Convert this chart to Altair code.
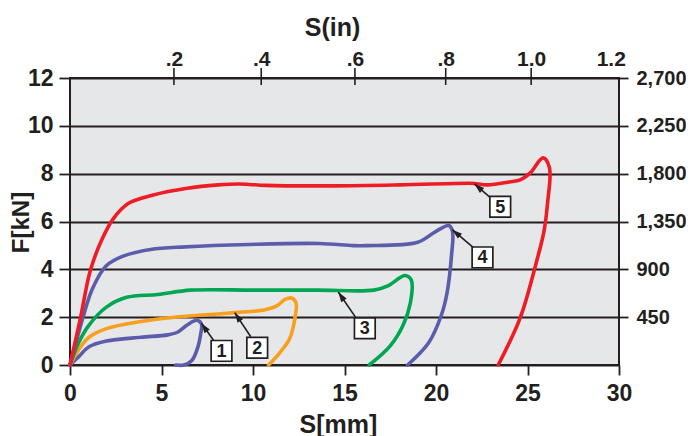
import math
import altair as alt
import pandas as pd

# ---------------- data ----------------
curve_names = ["1", "2", "3", "4", "5"]
curve_colors = ["#5B5DAA", "#F8A01E", "#00A651", "#5B5DAA", "#EE1C25"]

c1_x = [0, 0.47, 1.04, 1.99, 3.88, 5.35, 5.9, 6.4, 6.92, 7.18, 7.12, 7.0, 6.66, 6.22, 5.78]
c1_y = [0, 0.34, 0.76, 1.0, 1.16, 1.26, 1.38, 1.67, 1.87, 1.72, 1.2, 0.78, 0.19, 0.0, 0.0]

c2_x = [0, 0.47, 1.04, 1.99, 3.88, 5.7, 7.44, 9.2, 10.6, 11.3, 11.75, 12.1, 12.35, 12.3, 12.0, 11.45, 10.85]
c2_y = [0, 0.64, 1.16, 1.52, 1.82, 2.0, 2.1, 2.2, 2.3, 2.47, 2.74, 2.8, 2.6, 2.0, 1.1, 0.5, 0]

c3_x = [0, 0.47, 1.04, 1.99, 3.1, 4.8, 6.6, 10.0, 13.5, 16.6, 17.4, 18.3, 18.65, 18.6, 18.2, 17.5, 16.35]
c3_y = [0, 0.93, 1.67, 2.42, 2.83, 2.95, 3.13, 3.13, 3.13, 3.13, 3.32, 3.74, 3.55, 2.6, 1.66, 0.8, 0]

c4_x = [0, 0.7, 1.22, 1.97, 2.9, 4.4, 6.3, 9.8, 13.6, 15.5, 16.2, 19.0, 20.0, 20.7, 20.9, 20.85, 20.6, 20.3, 19.6, 18.45]
c4_y = [0, 1.97, 3.18, 4.14, 4.55, 4.83, 4.94, 5.04, 5.08, 4.99, 4.99, 5.13, 5.59, 5.83, 5.59, 4.6, 3.0, 2.1, 0.93, 0]

c5_x = [0, 0.57, 1.1, 1.7, 2.37, 3.2, 4.5, 6.4, 8.1, 9.2, 9.8, 10.7, 14.4, 18.0, 21.8, 22.1, 22.8,
        24.0, 24.6, 25.15, 25.85, 26.2, 26.1, 25.9, 25.5, 24.6, 23.4]
c5_y = [0, 1.96, 3.92, 5.17, 6.12, 6.76, 7.1, 7.39, 7.53, 7.57, 7.55, 7.51, 7.49, 7.53, 7.6, 7.59, 7.53,
        7.65, 7.74, 8.03, 8.66, 8.25, 6.8, 5.59, 4.34, 1.97, 0]

# axes
x_ticks = [0, 5, 10, 15, 20, 25, 30]
y_ticks = [0, 2, 4, 6, 8, 10, 12]
right_vals = [2, 4, 6, 8, 10, 12]
right_labels = ["450", "900", "1,350", "1,800", "2,250", "2,700"]
top_pos = [5.68, 10.45, 15.57, 20.53, 25.2, 29.55]
top_labels = [".2", ".4", ".6", ".8", "1.0", "1.2"]
top_tick_pos = [5.68, 10.45, 15.57, 20.53, 25.2]

# annotation boxes
box_labels = ["1", "2", "3", "4", "5"]
box_x = [8.28, 10.23, 16.11, 22.54, 23.51]
box_y = [0.59, 0.72, 1.54, 4.5, 6.62]
tip_x = [7.18, 9.0, 14.66, 20.89, 22.1]
tip_y = [1.75, 2.19, 3.05, 5.66, 7.57]
tail_x = [7.87, 9.88, 15.6, 22.06, 23.0]
tail_y = [1.0, 1.18, 2.0, 4.9, 6.98]

# ---------------- build ----------------
W, H = 549, 287
FONT = "Liberation Sans"
INK = "#231F20"

rows = []
for name, xs, ys in zip(curve_names, [c1_x, c2_x, c3_x, c4_x, c5_x], [c1_y, c2_y, c3_y, c4_y, c5_y]):
    for i, (xv, yv) in enumerate(zip(xs, ys)):
        rows.append({"curve": name, "s": xv, "f": yv, "i": i})
df = pd.DataFrame(rows)

angles = []
for tx, ty, ax, ay in zip(tip_x, tip_y, tail_x, tail_y):
    dx = (tx - ax) * W / 30.0
    dy = -(ty - ay) * H / 12.0
    angles.append(math.degrees(math.atan2(dx, -dy)) % 360)
ann = pd.DataFrame({"lab": box_labels, "bx": box_x, "by": box_y, "tx": tip_x, "ty": tip_y,
                    "ax": tail_x, "ay": tail_y, "ang": angles})

xscale = alt.Scale(domain=[0, 30], nice=False, zero=False)
yscale = alt.Scale(domain=[0, 12], nice=False)


def expr_map(vals, labels):
    e = "''"
    for v, l in reversed(list(zip(vals, labels))):
        e = f"abs(datum.value - {v}) < 0.01 ? '{l}' : ({e})"
    return e


lines = alt.Chart(df).mark_line(strokeWidth=3.6, interpolate="catmull-rom",
                                strokeCap="round", strokeJoin="round").encode(
    x=alt.X("s:Q", scale=xscale, axis=alt.Axis(
        orient="bottom", values=x_ticks, title="S[mm]", grid=False, domain=False,
        tickSize=10, tickWidth=1.8, labelPadding=7, labelFontSize=23, labelAngle=0,
        labelFlush=False, labelOverlap=False,
        titleFontSize=25, titleX=268, titleY=59, titleBaseline="middle", titleAnchor="start",
        titleAlign="center")),
    y=alt.Y("f:Q", scale=yscale, axis=alt.Axis(
        orient="left", values=y_ticks, title="F[kN]", grid=True, gridColor=INK, gridWidth=1.8,
        gridOpacity=1, domain=False, tickSize=11, tickWidth=1.8, labelPadding=6, labelFontSize=23,
        labelFlush=False, labelOverlap=False,
        titleFontSize=24, titleX=-49, titleY=144, titleBaseline="middle", titleAlign="center",
        titleAngle=270)),
    color=alt.Color("curve:N", scale=alt.Scale(domain=curve_names, range=curve_colors), legend=None),
    detail="curve:N",
    order="i:Q",
)

axes2 = alt.Chart(df).mark_point(opacity=0).encode(
    x=alt.X("s:Q", scale=xscale, axis=alt.Axis(
        orient="top", values=top_pos, labelExpr=expr_map(top_pos, top_labels), ticks=False,
        tickSize=0, domain=False, grid=False, labelPadding=9, labelFontSize=21, labelAngle=0,
        labelFlush=False, labelOverlap=False,
        title="S(in)", titleFontSize=25, titleX=262, titleY=-51, titleBaseline="middle",
        titleAlign="center")),
    y=alt.Y("f:Q", scale=yscale, axis=alt.Axis(
        orient="right", values=right_vals, labelExpr=expr_map(right_vals, right_labels),
        title=None, grid=False, domain=False, tickSize=9, tickWidth=1.8, labelPadding=8,
        labelFlush=False, labelOverlap=False, labelFontSize=20)),
)

top_ticks = alt.Chart(pd.DataFrame({"s": top_tick_pos})).mark_rule(color=INK, strokeWidth=1.6).encode(
    x=alt.X("s:Q", scale=xscale, axis=None),
    y=alt.value(-10),
    y2=alt.value(7),
)

arrows = alt.Chart(ann).mark_rule(color=INK, strokeWidth=1.6).encode(
    x=alt.X("ax:Q", scale=xscale, axis=None),
    y=alt.Y("ay:Q", scale=yscale, axis=None),
    x2="tx:Q",
    y2="ty:Q",
)

heads = alt.Chart(ann).mark_point(shape="M0,0L0.55,1.7L-0.55,1.7Z", filled=True, color=INK,
                                  opacity=1, size=140).encode(
    x=alt.X("tx:Q", scale=xscale, axis=None),
    y=alt.Y("ty:Q", scale=yscale, axis=None),
    angle=alt.Angle("ang:Q", scale=None),
)

boxes = alt.Chart(ann).mark_square(size=430, fill="white", stroke=INK, strokeWidth=1.7,
                                   opacity=1).encode(
    x=alt.X("bx:Q", scale=xscale, axis=None),
    y=alt.Y("by:Q", scale=yscale, axis=None),
)

texts = alt.Chart(ann).mark_text(font=FONT, fontWeight="bold", fontSize=18, color=INK,
                                 align="center", baseline="middle", dy=1).encode(
    x=alt.X("bx:Q", scale=xscale, axis=None),
    y=alt.Y("by:Q", scale=yscale, axis=None),
    text="lab:N",
)

chart = alt.layer(lines, axes2, top_ticks, arrows, heads, boxes, texts).resolve_axis(
    x="independent", y="independent"
).properties(
    width=W, height=H,
    padding={"left": 62, "top": 70, "right": 67, "bottom": 71},
    autosize=alt.AutoSizeParams(type="none"),
).configure_view(
    stroke=INK, strokeWidth=2, fill="#E6E7E9"
).configure_axis(
    labelFont=FONT, titleFont=FONT, labelFontWeight="bold", titleFontWeight="bold",
    labelColor=INK, titleColor=INK, tickColor=INK,
)

chart.save("out.html", embed_options={"renderer": "svg", "actions": False})
